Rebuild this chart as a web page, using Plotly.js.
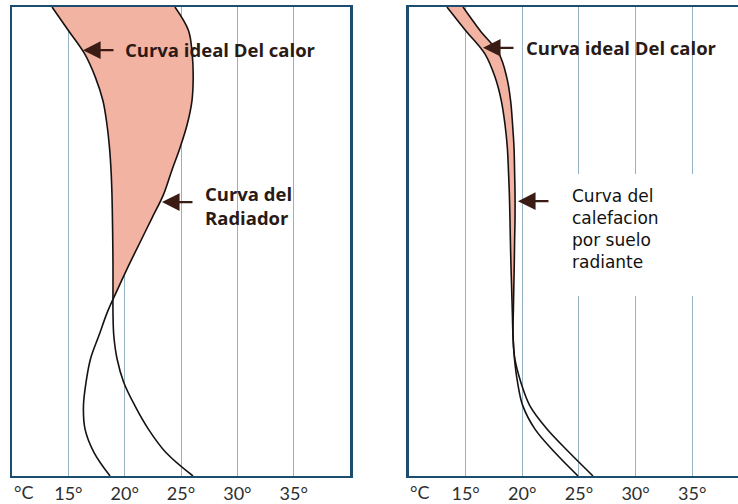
<!DOCTYPE html>
<html><head><meta charset="utf-8">
<script src="https://cdn.plot.ly/plotly-3.0.1.min.js"></script>
<style>html,body{margin:0;padding:0;background:#fff}#chart{width:738px;height:504px}</style>
</head><body><div id="chart"></div>
<script>
// ---- data ----
const tempTicks = [15, 20, 25, 30, 35];
const tempTickLabels = ['15°', '20°', '25°', '30°', '35°'];
const unitLabel = '°C';

// height levels (% of room height, ceiling = 100, floor = 0)
const heights = [100, 95, 90, 85, 80, 75, 70, 65, 60, 55, 50, 45, 40, 35, 30, 25, 20, 15, 10, 5, 0];

// left panel temperatures (°C) at each height
const idealRadTemp = [13.55, 15.0, 16.45, 17.4, 18.07, 18.42, 18.65, 18.79, 18.87, 18.91, 18.94, 18.96, 18.96, 18.96, 19.03, 19.32, 19.91, 20.90, 22.10, 23.66, 26.06];
const radiatorTemp = [24.46, 25.66, 25.99, 26.08, 25.97, 25.55, 24.91, 24.16, 23.44, 22.42, 21.40, 20.38, 19.41, 18.47, 17.72, 16.97, 16.57, 16.34, 16.48, 17.28, 18.70];

// right panel temperatures (°C) at each height
const idealFloorTemp = [13.35, 14.99, 16.7, 17.6, 18.15, 18.47, 18.68, 18.78, 18.86, 18.91, 18.95, 19.00, 19.06, 19.12, 19.18, 19.34, 19.87, 20.66, 22.18, 24.15, 26.24];
const floorTemp      = [14.77, 16.27, 17.95, 18.63, 18.97, 19.14, 19.27, 19.32, 19.36, 19.36, 19.32, 19.29, 19.25, 19.21, 19.18, 19.31, 19.58, 20.04, 21.12, 22.88, 24.92];

const labelIdeal = 'Curva ideal Del calor';
const labelRadiator = 'Curva del<br>Radiador';
const labelFloor = 'Curva del<br>calefacion<br>por suelo<br>radiante';

// ---- helpers ----
// portion of two curves from the ceiling down to where they first meet
function upperBand(ys, a, b) {
  const A = {x: [], y: []}, B = {x: [], y: []};
  for (let i = 0; i < ys.length; i++) {
    const d = b[i] - a[i];
    if (d <= 0) {
      if (i > 0) {
        const d0 = b[i - 1] - a[i - 1];
        const t = d0 / (d0 - d);
        const yc = ys[i - 1] + t * (ys[i] - ys[i - 1]);
        const xc = a[i - 1] + t * (a[i] - a[i - 1]);
        A.x.push(xc); A.y.push(yc); B.x.push(xc); B.y.push(yc);
      }
      break;
    }
    A.x.push(a[i]); A.y.push(ys[i]); B.x.push(b[i]); B.y.push(ys[i]);
  }
  return [A, B];
}
const FILL = '#f2b3a3';
const LINE = '#161212';
const FRAME = '#1c4d6e';
const GRID = '#94b2c4';

const [fa1, fb1] = upperBand(heights, idealRadTemp, radiatorTemp);
const [fa2, fb2] = upperBand(heights, idealFloorTemp, floorTemp);

const sp = {shape: 'spline', smoothing: 1};
function lineTrace(x, y, xa, ya) {
  return {x: x, y: y, mode: 'lines', line: Object.assign({width: 1.6, color: LINE}, sp), xaxis: xa, yaxis: ya};
}
function fillPair(A, B, xa, ya) {
  return [
    {x: A.x, y: A.y, mode: 'lines', line: Object.assign({width: 0, color: FILL}, sp), xaxis: xa, yaxis: ya},
    {x: B.x, y: B.y, mode: 'lines', fill: 'tonextx', fillcolor: FILL, line: Object.assign({width: 0, color: FILL}, sp), xaxis: xa, yaxis: ya}
  ];
}
const traces = [].concat(
  fillPair(fa1, fb1, 'x', 'y'),
  [lineTrace(idealRadTemp, heights, 'x', 'y'), lineTrace(radiatorTemp, heights, 'x', 'y')],
  fillPair(fa2, fb2, 'x2', 'y2'),
  [lineTrace(idealFloorTemp, heights, 'x2', 'y2'), lineTrace(floorTemp, heights, 'x2', 'y2')]
);

const yDom = [0.0556, 0.9861];
const tickFont = {family: 'Lato, sans-serif', size: 18, color: '#2e2e2e'};
function xax(dom, range, anchor) {
  return {domain: dom, range: range, anchor: anchor, tickvals: tempTicks, ticktext: tempTickLabels,
    showgrid: true, gridcolor: GRID, gridwidth: 1, zeroline: false, showline: true, mirror: true,
    linecolor: FRAME, linewidth: 2.5, ticks: '', ticklen: 0, ticklabelstandoff: 0,
    tickfont: tickFont, fixedrange: true};
}
function yax(anchor, mirror) {
  return {domain: yDom, range: [0, 100], anchor: anchor, showgrid: false, zeroline: false,
    showticklabels: false, ticks: '', showline: true, mirror: mirror, linecolor: FRAME, linewidth: 2.5, fixedrange: true};
}

const boldFont = {family: 'Open Sans, sans-serif', size: 18.5, color: '#2a1a16'};
const regFont = {family: 'DejaVu Sans, Verdana, sans-serif', size: 17, color: '#111'};
const arrowBase = {text: '', showarrow: true, arrowhead: 2, arrowsize: 1.6, arrowwidth: 2.2, arrowcolor: '#3a1c14', ay: 0, ax: 32};

const layout = {
  width: 738, height: 504, margin: {l: 0, r: 0, t: 0, b: 0},
  paper_bgcolor: '#fff', plot_bgcolor: '#fff', showlegend: false,
  xaxis: xax([0.0163, 0.4743], [10, 40], 'y'),
  yaxis: yax('x', true),
  xaxis2: xax([0.5542, 1], [10, 39.04], 'y2'),
  yaxis2: yax('x2', false),
  shapes: [
    {type: 'rect', xref: 'x2', yref: 'y2', x0: 21.6, x1: 39.04, y0: 38.4, y1: 64.4, fillcolor: '#fff', line: {width: 0}, layer: 'between'}
  ],
  annotations: [
    Object.assign({}, arrowBase, {xref: 'x', yref: 'y', x: 16.3, y: 90.8}),
    {xref: 'x', yref: 'y', x: 19.85, y: 91.0, xanchor: 'left', yanchor: 'middle', showarrow: false, text: '<b>' + labelIdeal + '</b>', font: boldFont},
    Object.assign({}, arrowBase, {xref: 'x', yref: 'y', x: 23.31, y: 58.4}),
    {xref: 'x', yref: 'y', x: 26.95, y: 57.6, xanchor: 'left', yanchor: 'middle', align: 'left', showarrow: false, text: '<b>' + labelRadiator + '</b>', font: boldFont},
    Object.assign({}, arrowBase, {xref: 'x2', yref: 'y2', x: 16.53, y: 91.3}),
    {xref: 'x2', yref: 'y2', x: 20.15, y: 91.3, xanchor: 'left', yanchor: 'middle', showarrow: false, text: '<b>' + labelIdeal + '</b>', font: boldFont},
    Object.assign({}, arrowBase, {xref: 'x2', yref: 'y2', x: 19.62, y: 58.6}),
    {xref: 'x2', yref: 'y2', x: 24.21, y: 52.7, xanchor: 'left', yanchor: 'middle', align: 'left', showarrow: false, text: labelFloor, font: regFont},
    {xref: 'x', yref: 'paper', x: 11.06, y: 0.024, xanchor: 'center', yanchor: 'middle', showarrow: false, text: unitLabel, font: tickFont},
    {xref: 'x2', yref: 'paper', x: 10.97, y: 0.024, xanchor: 'center', yanchor: 'middle', showarrow: false, text: unitLabel, font: tickFont}
  ]
};

Plotly.newPlot('chart', traces, layout, {staticPlot: true, displayModeBar: false});
</script>
</body></html>
